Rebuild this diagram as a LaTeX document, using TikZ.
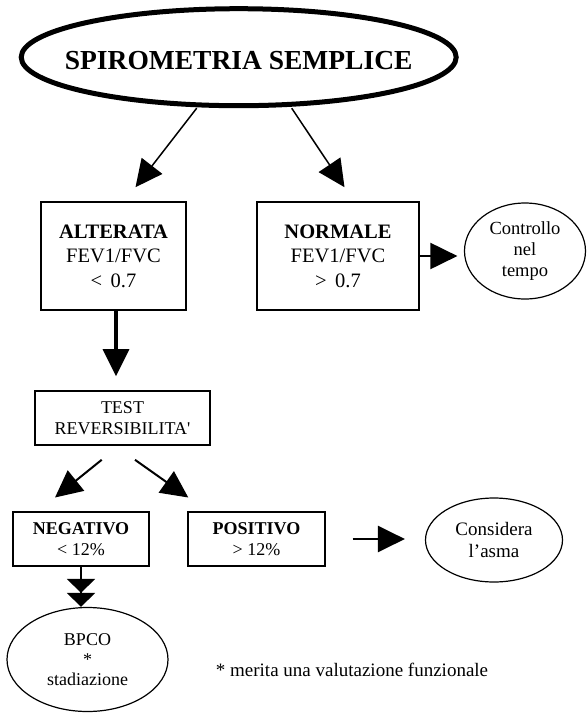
\documentclass[tikz,border=0pt]{standalone}
\usepackage{fontspec}
\setmainfont{Liberation Serif}[Ligatures=TeXOff]
\usetikzlibrary{arrows.meta,shapes.geometric,calc}
\begin{document}
\begin{tikzpicture}[x=1pt,y=-1pt,
  box/.style={draw, line width=1.6pt, inner sep=0pt, align=center},
  oval/.style={draw, ellipse, line width=1.2pt, inner sep=0pt, align=center},
  bigtxt/.style={font=\fontsize{20.5}{24.5}\selectfont},
  midtxt/.style={font=\fontsize{18}{20.5}\selectfont},
  arr/.style={-{Triangle[length=27pt,width=26pt]}, line width=1.5pt},
  dbl/.style={-{Triangle[length=14pt,width=28pt,sep=0pt]Triangle[length=14pt,width=28pt,sep=0pt]}, line width=1.8pt}]
\useasboundingbox (0,0) rectangle (587,713);

\node[oval, line width=5pt, minimum width=435pt, minimum height=97pt,
      font=\fontsize{27.5}{30}\selectfont\bfseries] (title) at (238.7,57.2)
  {\makebox[0pt]{\smash{\raisebox{-12pt}{SPIROMETRIA SEMPLICE}}}};

\node[box, bigtxt, minimum width=145pt, minimum height=108pt] (alt) at (113.5,256)
  {\textbf{ALTERATA}\\FEV1/FVC\\< \,0.7};
\node[box, bigtxt, minimum width=162pt, minimum height=108pt] (norm) at (338,256)
  {\textbf{NORMALE}\\FEV1/FVC\\> \,0.7};
\node[oval, font=\fontsize{18.5}{21}\selectfont, minimum width=121pt, minimum height=96pt] (ctrl) at (525,251)
  {Controllo\\nel\\tempo};

\node[box, midtxt, minimum width=175pt, minimum height=54pt] (test) at (122.5,418)
  {TEST\\REVERSIBILITA'};

\node[box, midtxt, minimum width=136pt, minimum height=54pt] (neg) at (81,539)
  {\textbf{NEGATIVO}\\< 12\%};
\node[box, midtxt, minimum width=137pt, minimum height=54pt] (pos) at (256.5,539)
  {\textbf{POSITIVO}\\> 12\%};
\node[oval, font=\fontsize{19}{22}\selectfont, minimum width=137pt, minimum height=84pt] (cons) at (494,540)
  {Considera\\l’asma};

\node[oval, font=\fontsize{18}{20}\selectfont, minimum width=161pt, minimum height=104pt] (bpco) at (87.5,659.5)
  {BPCO\\*\\stadiazione};

\node[font=\fontsize{19}{22}\selectfont, inner sep=0pt] (note) at (352,670)
  {* merita una valutazione funzionale};

\draw[arr] ($(title.center)+(-42,51)$) -- ($(alt.north)+(22,-14)$);
\draw[arr] ($(title.center)+(53,51)$) -- ($(norm.north)+(6.5,-14)$);
\draw[arr, line width=3.5pt] ($(alt.south)+(2.5,0)$) -- ($(test.north)+(-6.5,-14)$);
\draw[arr, line width=2pt, shorten >=6.5pt] (norm.east) -- (norm.east -| ctrl.west);
\draw[arr, line width=2pt] ($(test.south)+(-20.8,14)$) -- ($(neg.north)+(-26,-13.7)$);
\draw[arr, line width=2pt] ($(test.south)+(12.5,14)$) -- ($(pos.north)+(-68.2,-13.7)$);
\draw[arr, line width=2.5pt] ($(pos.east)+(26.7,0)$) -- ($(pos.east -| cons.west)+(-20,0)$);
\draw[dbl] (neg.south) -- (neg.south |- bpco.north);
\end{tikzpicture}
\end{document}
